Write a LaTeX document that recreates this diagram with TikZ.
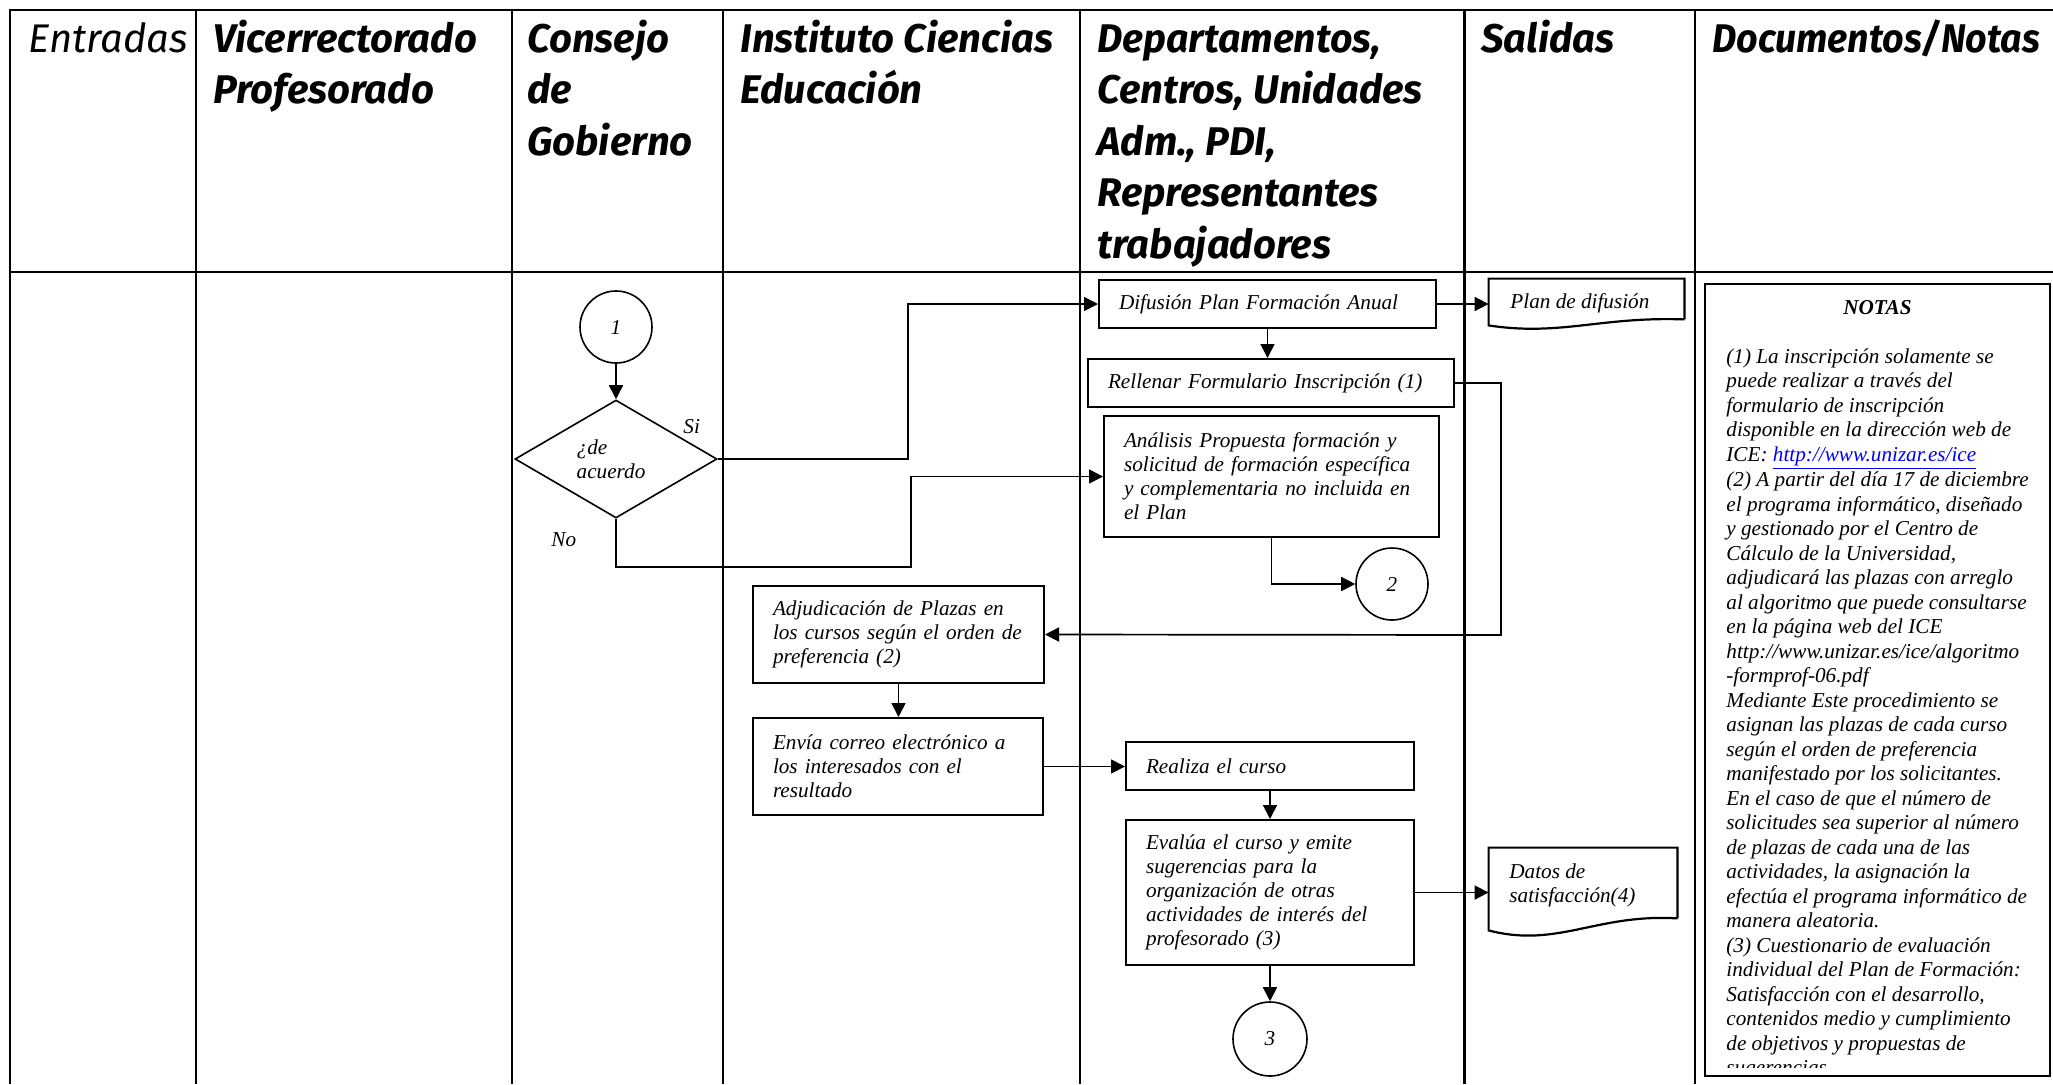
\documentclass[tikz,border=0pt]{standalone}
\usepackage{fontspec}
\setmainfont{Liberation Serif}
\newfontfamily\hdrfont{Fira Sans}
\usetikzlibrary{arrows.meta,shapes.geometric,calc}
\begin{document}
\begin{tikzpicture}[x=0.5pt,y=-0.5pt,
  tline/.style={line width=1.3pt},
  hdr/.style={anchor=base west, inner sep=0pt, font=\hdrfont\bfseries\itshape\fontsize{20}{25.75}\selectfont},
  txt/.style={font=\itshape\fontsize{10.6}{12}\selectfont},
  pbox/.style={txt, draw, line width=1pt, rectangle, align=left, inner xsep=10pt, inner ysep=0pt},
  arr/.style={line width=0.85pt, -{Triangle[length=7pt,width=7pt]}},
  conn/.style={txt, draw, circle, line width=0.8pt, minimum size=36pt, inner sep=0pt},
  lbl/.style={txt, anchor=base west, inner sep=0pt},
  docl/.style={line width=1.1pt},
]
\useasboundingbox (0,0) rectangle (2053,1084);

% table
\draw[tline] (10,1084) -- (10,10) -- (2053,10);
\draw[tline] (10,272) -- (2053,272);
\foreach \x in {196,512,723,1080,1464.5,1695} \draw[tline] (\x,10) -- (\x,1084);

% headers
\node[hdr, font=\hdrfont\itshape\fontsize{20}{25.75}\selectfont] (hEnt) at (28,52) {Entradas};
\node[hdr] (hVic) at (213,52) {\begin{tabular}[t]{@{}l@{}}Vicerrectorado\\Profesorado\end{tabular}};
\node[hdr] (hCon) at (527,52) {\begin{tabular}[t]{@{}l@{}}Consejo\\de\\Gobierno\end{tabular}};
\node[hdr] (hIns) at (740,52) {\begin{tabular}[t]{@{}l@{}}Instituto Ciencias\\Educación\end{tabular}};
\node[hdr] (hDep) at (1097,52) {\begin{tabular}[t]{@{}l@{}}\scalebox{0.98}[1]{Departamentos,}\\Centros, Unidades\\Adm., PDI,\\Representantes\\trabajadores\end{tabular}};
\node[hdr] (hSal) at (1481,52) {Salidas};
\node[hdr] (hDoc) at (1712,52) {\scalebox{0.94}[1]{Documentos/Notas}};

% flow nodes
\node[conn] (c1) at (616,327) {1};
\node[txt, draw, diamond, line width=0.8pt, minimum width=101pt, minimum height=59pt, inner sep=0pt, align=left] (dec) at (616,459) {¿de\\acuerdo\hspace*{5pt}};
\node[lbl] (si) at (683,433) {Si};
\node[lbl] (no) at (551,546) {No};

\node[pbox, minimum width=168.5pt, minimum height=24pt, text width=148.5pt] (dif) at (1267.5,304) {Difusión Plan Formación Anual};
\node[pbox, minimum width=183pt, minimum height=24pt, text width=163pt] (rel) at (1271,383) {Rellenar Formulario Inscripción (1)};
\node[pbox, minimum width=167.5pt, minimum height=60.5pt, text width=147.5pt] (ana) at (1271.5,476.5) {Análisis Propuesta formación y\\solicitud de formación específica\\y complementaria no incluida en\\el Plan};
\node[conn] (c2) at (1392,584) {2};
\node[pbox, minimum width=145.5pt, minimum height=48.5pt, text width=125.5pt] (adj) at (898.5,634.5) {Adjudicación de Plazas en\\los cursos según el orden de\\preferencia (2)};
\node[pbox, minimum width=145pt, minimum height=48.5pt, text width=125pt] (env) at (898,766.5) {Envía correo electrónico a\\los interesados con el\\resultado};
\node[pbox, minimum width=144pt, minimum height=24pt, text width=124pt] (rea) at (1270,766) {Realiza el curso};
\node[pbox, minimum width=144pt, minimum height=72.5pt, text width=124pt] (eva) at (1270,892.5) {Evalúa el curso y emite\\sugerencias para la\\organización de otras\\actividades de interés del\\profesorado (3)};
\node[conn, minimum size=37pt] (c3) at (1270,1039) {3};

% document shapes
\node[rectangle, inner sep=0pt, minimum width=97.5pt, minimum height=20pt] (pd) at (1586.5,299) {};
\draw[docl] (pd.south east) -- (pd.north east) -- (pd.north west) -- ($(pd.south west)+(0,6)$) .. controls ($(pd.south east)+(-124,17)$) and ($(pd.south east)+(-84,-3)$) .. (pd.south east);
\node[lbl] (pdt) at (1510,308) {Plan de difusión};
\node[rectangle, inner sep=0pt, minimum width=94pt, minimum height=35pt] (dat) at (1583,883) {};
\draw[docl] (dat.south east) -- (dat.north east) -- (dat.north west) -- ($(dat.south west)+(0,12)$) .. controls ($(dat.south east)+(-120,30)$) and ($(dat.south east)+(-81,-5)$) .. (dat.south east);
\node[lbl] (datt) at (1509,878) {\begin{tabular}[t]{@{}l@{}}Datos de\\satisfacción(4)\end{tabular}};

% connectors
\coordinate (k1) at (908,304);
\coordinate (k2) at (911,567);
\coordinate (k3) at (1501,635);
\draw[arr] (c1) -- (dec);
\draw[arr] (dec.east) -| (k1) -- (dif.west);
\draw[arr] (dec.south) |- (k2) |- (ana.west);
\draw[arr] (dif.south) -- (dif.south |- rel.north);
\draw[arr] (dif.east) -- (dif.east -| pd.west);
\draw[arr] (rel.east) -| (k3) -- (adj.east);
\draw[arr] (ana.south) |- (c2.west);
\draw[arr] (adj.south) -- (adj.south |- env.north);
\draw[arr] (env.east) -- (env.east -| rea.west);
\draw[arr] (rea.south) -- (rea.south |- eva.north);
\draw[arr] (eva.east) -- (eva.east -| dat.west);
\draw[arr] (eva.south) -- (c3.north);

% notes
\node[draw, line width=1.1pt, minimum width=172.5pt, minimum height=396pt, inner sep=0pt] (notes) at (1877.5,680) {};
\begin{scope}
\clip (1705,284) rectangle (2050,1067);
\node[anchor=base, inner sep=0pt, font=\bfseries\itshape\fontsize{10.6}{12.25}\selectfont] (notastit) at (1877.5,314) {NOTAS};
\node[anchor=base west, inner sep=0pt, font=\itshape\fontsize{10.6}{12.25}\selectfont] (notestxt) at (1726,363) {\begin{tabular}[t]{@{}l@{}}
(1) La inscripción solamente se\\
puede realizar a través del\\
formulario de inscripción\\
disponible en la dirección web de\\
ICE: \textcolor{blue}{\underline{http://www.unizar.es/ice}}\\
(2) A partir del día 17 de diciembre\\
el programa informático, diseñado\\
y gestionado por el Centro de\\
Cálculo de la Universidad,\\
adjudicará las plazas con arreglo\\
al algoritmo que puede consultarse\\
en la página web del ICE\\
http://www.unizar.es/ice/algoritmo\\
-formprof-06.pdf\\
Mediante Este procedimiento se\\
asignan las plazas de cada curso\\
según el orden de preferencia\\
manifestado por los solicitantes.\\
En el caso de que el número de\\
solicitudes sea superior al número\\
de plazas de cada una de las\\
actividades, la asignación la\\
efectúa el programa informático de\\
manera aleatoria.\\
(3) Cuestionario de evaluación\\
individual del Plan de Formación:\\
Satisfacción con el desarrollo,\\
contenidos medio y cumplimiento\\
de objetivos y propuestas de\\
sugerencias
\end{tabular}};
\end{scope}
\end{tikzpicture}
\end{document}
